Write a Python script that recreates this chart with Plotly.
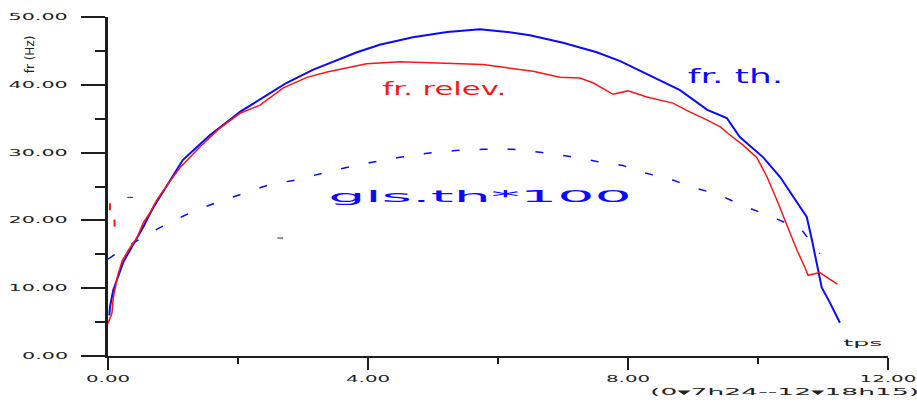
import plotly.graph_objects as go

# Theoretical frequency (Hz) versus time
fr_th_x = [0.02, 0.03, 0.08, 0.15, 0.23, 0.29, 0.38, 0.54, 0.69, 0.85, 1.15, 1.31, 1.57, 1.83,
           2.03, 2.45, 2.75, 3.15, 3.46, 3.83, 4.18, 4.69, 5.22, 5.72, 6.14, 6.49, 7.00, 7.52,
           7.88, 8.38, 8.80, 9.22, 9.52, 9.72, 10.08, 10.34, 10.57, 10.75, 10.83, 10.92, 10.98,
           11.11, 11.26]
fr_th_y = [6.0, 7.2, 9.7, 11.6, 13.7, 14.8, 16.3, 19.0, 21.8, 24.2, 28.9, 30.3, 32.6, 34.5,
           36.0, 38.5, 40.3, 42.2, 43.4, 44.8, 45.9, 47.0, 47.8, 48.2, 47.8, 47.3, 46.2, 44.8,
           43.5, 41.1, 39.2, 36.3, 35.1, 32.3, 29.3, 26.4, 23.0, 20.5, 17.1, 13.1, 10.1,
           7.8, 4.9]

# Measured frequency (Hz)
fr_relev_x = [0.00, 0.06, 0.08, 0.15, 0.22, 0.34, 0.45, 0.54, 0.65, 0.75, 0.91, 1.11, 1.42,
              1.72, 2.03, 2.34, 2.69, 3.06, 3.37, 3.68, 3.98, 4.49, 5.15, 5.77, 6.14, 6.54,
              6.95, 7.26, 7.46, 7.77, 8.00, 8.29, 8.69, 8.95, 9.22, 9.42, 9.57, 9.77, 9.98,
              10.14, 10.29, 10.49, 10.60, 10.72, 10.77, 10.95, 11.06, 11.22]
fr_relev_y = [4.8, 6.3, 8.5, 11.9, 14.1, 16.0, 17.5, 19.6, 21.2, 23.0, 25.2, 27.8, 30.9,
              33.6, 35.8, 37.0, 39.5, 41.1, 41.9, 42.5, 43.1, 43.4, 43.2, 43.0, 42.5, 42.0,
              41.1, 41.0, 40.3, 38.6, 39.1, 38.2, 37.3, 36.0, 34.8, 33.8, 32.6, 31.1, 29.3,
              26.4, 23.0, 18.1, 15.6, 13.1, 11.9, 12.3, 11.6, 10.6]

# Theoretical glissement x 100
gls_x = [0.00, 0.25, 0.50, 0.77, 1.08, 1.38, 1.72, 2.08, 2.46, 2.85, 3.22, 3.62, 4.08, 4.49,
         4.91, 5.34, 5.77, 6.22, 6.68, 7.06, 7.52, 7.92, 8.26, 8.65, 8.98, 9.37, 9.69, 10.03,
         10.34, 10.68, 10.95]
gls_y = [14.3, 15.9, 17.3, 18.8, 20.3, 21.6, 22.8, 24.0, 25.2, 25.9, 26.8, 27.7, 28.6, 29.3,
         29.9, 30.3, 30.5, 30.5, 30.0, 29.5, 28.7, 28.1, 27.0, 26.1, 24.9, 23.9, 22.5, 21.2,
         20.0, 18.5, 15.1]

# Isolated samples
relev_pts_x = [0.03, 0.10]
relev_pts_y = [22.0, 19.6]
misc_pts_x = [0.34, 2.65]
misc_pts_y = [23.4, 17.4]

x_ticks = [0, 4, 8, 12]
y_ticks = [0, 10, 20, 30, 40, 50]

BLUE = "#0a0aff"
RED = "#ff1414"
AX = "#1e1e1e"
TXT = "#222"

fig = go.Figure()
fig.add_trace(go.Scatter(x=gls_x, y=gls_y, mode="lines",
                         line=dict(color=BLUE, width=1.5, dash="8px,20px")))
fig.add_trace(go.Scatter(x=fr_th_x, y=fr_th_y, mode="lines",
                         line=dict(color=BLUE, width=2)))
fig.add_trace(go.Scatter(x=fr_relev_x, y=fr_relev_y, mode="lines",
                         line=dict(color=RED, width=1.5)))
fig.add_trace(go.Scatter(x=relev_pts_x, y=relev_pts_y, mode="markers",
                         marker=dict(symbol="line-ns-open", size=5, color=RED,
                                     line=dict(color=RED, width=2))))
fig.add_trace(go.Scatter(x=misc_pts_x, y=misc_pts_y, mode="markers",
                         marker=dict(symbol="line-ew-open", size=4, color="#222",
                                     line=dict(color="#222", width=1))))

label_font = "DejaVu Sans"
# (annotation, horizontal glyph stretch)
labels = [
    (dict(x=9.65, y=41.3, xref="x", yref="y", text="fr. th.",
          font=dict(family=label_font, size=20, color=BLUE)), 1.8),
    (dict(x=5.18, y=39.5, xref="x", yref="y", text="fr. relev.",
          font=dict(family=label_font, size=18, color=RED)), 1.7),
    (dict(x=5.72, y=23.45, xref="x", yref="y", text="gls.th*100",
          font=dict(family=label_font, size=15, color=BLUE)), 3.9),
    (dict(x=0.968, y=0.038, xref="paper", yref="paper", text="tps",
          font=dict(family=label_font, size=9, color=TXT)), 2.8),
    (dict(x=0.867, y=-0.106, xref="paper", yref="paper", text="(0▾7h24--12▾18h15)",
          font=dict(family=label_font, size=9, color=TXT)), 2.95),
    (dict(x=-0.10, y=0.89, xref="paper", yref="paper", text="fr (Hz)", textangle=-90,
          font=dict(family=label_font, size=12, color=TXT)), 1.0),
]
# Tick labels of both axes, in the same wide lettering
for v in y_ticks:
    labels.append((dict(x=-0.0487, y=v, xref="paper", yref="y", text=f"{v:.2f}",
                        xanchor="right", align="right",
                        font=dict(family=label_font, size=9, color=TXT)), 2.3))
for v in x_ticks:
    labels.append((dict(x=v, y=-0.068, xref="x", yref="paper", text=f"{v:.2f}",
                        font=dict(family=label_font, size=9, color=TXT)), 2.2))

annotations = []
stretch = []
for a, s in labels:
    a.setdefault("xanchor", "center")
    a.setdefault("yanchor", "middle")
    a["showarrow"] = False
    annotations.append(a)
    stretch.append(s)

fig.update_layout(
    width=917, height=403,
    margin=dict(l=108, r=29, t=17, b=47),
    paper_bgcolor="white", plot_bgcolor="white",
    showlegend=False,
    annotations=annotations,
    xaxis=dict(range=[0, 12], tickvals=x_ticks, showticklabels=False,
               showgrid=False, zeroline=False, showline=True, linecolor=AX, linewidth=2,
               ticks="outside", ticklen=12, tickwidth=2, tickcolor=AX,
               minor=dict(dtick=2, ticks="outside", ticklen=6, tickwidth=2, tickcolor=AX,
                          showgrid=False)),
    yaxis=dict(range=[0, 50], tickvals=y_ticks, showticklabels=False,
               showgrid=False, zeroline=False, showline=True, linecolor=AX, linewidth=3,
               ticks="outside", ticklen=24, tickwidth=2, tickcolor=AX,
               minor=dict(dtick=5, ticks="outside", ticklen=10, tickwidth=2, tickcolor=AX,
                          showgrid=False)),
)

# Wide plotter-style lettering: stretch glyphs horizontally via textLength
post = """
var gd = document.getElementById('{plot_id}');
var spec = %s;
gd.querySelectorAll('g.annotation').forEach(function(g){
  var i = parseInt(g.getAttribute('data-index'));
  var t = g.querySelector('text');
  if (!t || !spec[i] || spec[i] === 1.0) return;
  var w = t.getComputedTextLength();
  if (!w) return;
  t.setAttribute('lengthAdjust', 'spacingAndGlyphs');
  t.setAttribute('textLength', String(w * spec[i]));
});
""" % str(stretch)

fig.write_html("out.html", post_script=post)
